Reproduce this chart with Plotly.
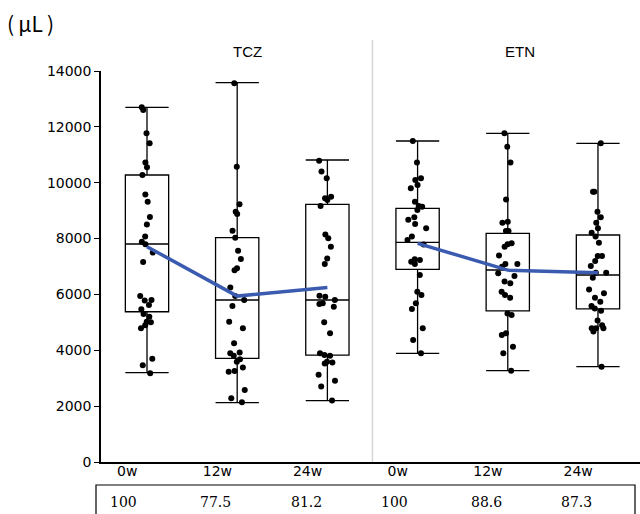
import plotly.graph_objects as go

# ---------------- data ----------------
groups = ["TCZ", "ETN"]
weeks = ["0w", "12w", "24w"]

tcz_0w = [12700, 12600, 11770, 11410, 10720, 10550, 10280, 9580, 9320, 8770, 8500, 8070, 7890, 7800,
          7500, 7160, 5940, 5800, 5780, 5620, 5470, 5300, 5200, 5020, 5000, 4900, 4790, 3700, 3460, 3180]
tcz_12w = [13560, 10570, 9230, 8960, 8880, 8280, 8030, 7560, 7270, 6940, 6870, 6250, 5940, 5800, 5590,
           5020, 4790, 4250, 3920, 3890, 3800, 3680, 3590, 3380, 3260, 3230, 2580, 2280, 2140]
tcz_24w = [10790, 10400, 10160, 9500, 9440, 9380, 9170, 8150, 8010, 7710, 7290, 7090, 5950, 5920, 5800,
           5680, 5660, 5560, 5000, 4610, 3890, 3830, 3800, 3590, 3560, 3530, 3120, 2910, 2700, 2200]
etn_0w = [11490, 10720, 10160, 10100, 9920, 9800, 9320, 9170, 9140, 9020, 8760, 8670, 8520, 8370, 8070,
          7950, 7790, 7260, 7230, 7170, 7090, 6700, 6100, 5980, 5680, 5480, 4790, 4370, 3890]
etn_12w = [11770, 11290, 10720, 9400, 8600, 8570, 8270, 8270, 7830, 7800, 7710, 7390, 7090, 7090, 6990,
           6760, 6660, 6460, 6400, 6100, 5980, 5880, 5320, 5260, 4610, 4550, 4130, 3890, 3270]
etn_24w = [11410, 9680, 9680, 8960, 8760, 8570, 8370, 8210, 8070, 7850, 7380, 7380, 7200, 7020, 6780,
           6780, 6600, 6180, 6040, 5880, 5740, 5590, 5500, 5420, 5070, 4900, 4790, 4790, 4790, 4670, 3410]

# box statistics (whiskers = min / max)
box_q1 = [5380, 3710, 3830, 6900, 5410, 5480]
box_median = [7805, 5800, 5800, 7865, 6874, 6695]
box_q3 = [10276, 8031, 9226, 9083, 8186, 8127]
box_min = [3197, 2123, 2196, 3891, 3270, 3413]
box_max = [12700, 13581, 10813, 11493, 11768, 11410]

# mean line (blue)
tcz_mean = [7710, 5940, 6250]
etn_mean = [7830, 6870, 6780]

# relative values (%) shown in the table below the axis
table_values = ["100", "77.5", "81.2", "100", "88.6", "87.3"]

y_ticks = [0, 2000, 4000, 6000, 8000, 10000, 12000, 14000]

# ---------------- figure ----------------
samples = [tcz_0w, tcz_12w, tcz_24w, etn_0w, etn_12w, etn_24w]
positions = list(range(6))

fig = go.Figure()
for i, pts in enumerate(samples):
    fig.add_trace(go.Box(
        x=[positions[i]],
        q1=[box_q1[i]], median=[box_median[i]], q3=[box_q3[i]],
        lowerfence=[box_min[i]], upperfence=[box_max[i]],
        y=[pts],
        boxpoints="all", jitter=0.5, pointpos=0,
        width=0.48, whiskerwidth=1,
        fillcolor="rgba(255,255,255,0)",
        line=dict(color="black", width=1.3),
        marker=dict(color="black", size=6),
        showlegend=False, hoverinfo="skip",
    ))

blue = "#3a5bb0"
fig.add_trace(go.Scatter(x=positions[0:3], y=tcz_mean, mode="lines",
                         line=dict(color=blue, width=3.5), showlegend=False))
fig.add_trace(go.Scatter(x=positions[3:6], y=etn_mean, mode="lines",
                         line=dict(color=blue, width=3.5), showlegend=False))

fig.update_layout(
    width=640, height=514,
    margin=dict(l=101, r=0, t=71, b=52),
    paper_bgcolor="white", plot_bgcolor="white",
    showlegend=False,
    xaxis=dict(
        range=[-0.51, 5.466],
        tickvals=[p - 0.22 for p in positions],
        ticktext=weeks * 2,
        ticks="", showgrid=False, zeroline=False,
        showline=True, linecolor="black", linewidth=1.5,
        ticklabelstandoff=-5,
        tickfont=dict(family="DejaVu Sans", size=14, color="black"),
    ),
    yaxis=dict(
        range=[0, 14000],
        tickvals=y_ticks,
        ticktext=[str(v) for v in y_ticks],
        ticks="outside", ticklen=5, tickcolor="black", tickwidth=1,
        showgrid=False, zeroline=False,
        showline=True, linecolor="black", linewidth=1.5,
        tickfont=dict(family="DejaVu Sans", size=14, color="black"),
    ),
    font=dict(family="DejaVu Sans", color="black"),
)

# panel separator
fig.add_shape(type="line", xref="x", yref="paper", x0=2.5, x1=2.5, y0=0, y1=1.079,
              line=dict(color="#d6d6d6", width=1.5))

# panel titles
fig.add_annotation(x=1.11, y=1.05, xref="x", yref="paper", yanchor="middle", text=groups[0],
                   showarrow=False, font=dict(family="Liberation Sans", size=15, color="black"))
fig.add_annotation(x=4.135, y=1.05, xref="x", yref="paper", yanchor="middle", text=groups[1],
                   showarrow=False, font=dict(family="Liberation Sans", size=15, color="black"))

# unit label
fig.add_annotation(x=0, y=1, xref="paper", yref="paper", xanchor="left", yanchor="middle",
                   text="(\u2009μL\u2009)", showarrow=False, xshift=-96, yshift=48,
                   font=dict(family="Noto Sans CJK JP", size=21, color="black"))

# table under the axis
fig.add_shape(type="rect", xref="paper", yref="paper",
              x0=-5 / 539, x1=534 / 539, y0=-60 / 391, y1=-23 / 391,
              line=dict(color="black", width=1.2), fillcolor="rgba(0,0,0,0)")
for i, v in enumerate(table_values):
    fig.add_annotation(x=positions[i] - 0.43, y=0, xref="x", yref="paper", xanchor="left",
                       yanchor="middle", yshift=-40, text=v, showarrow=False,
                       font=dict(family="DejaVu Serif", size=14, color="black"))

fig.write_html("out.html", config={"displayModeBar": False},
               post_script="document.body.style.margin='0';")
